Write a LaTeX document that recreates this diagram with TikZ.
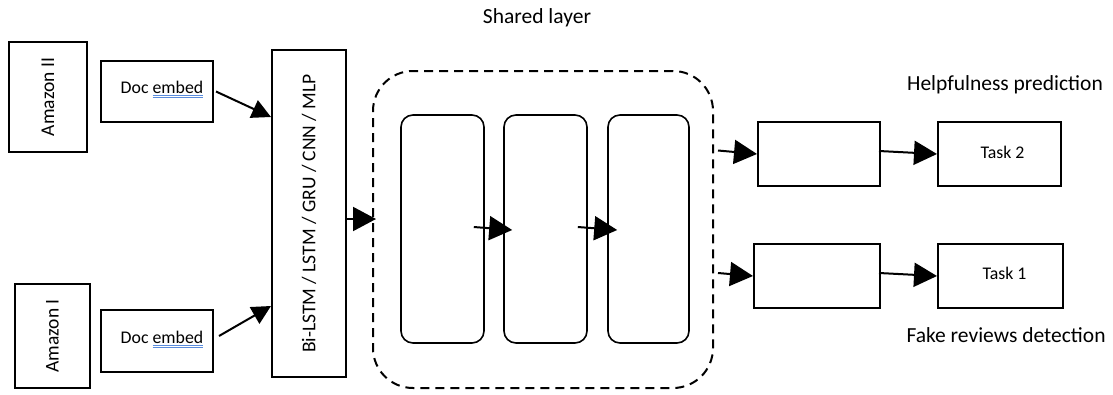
\documentclass[tikz,border=0pt]{standalone}
\usepackage{fontspec}
\setmainfont{Carlito}
\usetikzlibrary{arrows.meta,calc}
\definecolor{ulblue}{RGB}{90,140,220}
% spell-check style double underline under a word
\newcommand\spellul[1]{\setbox0=\hbox{#1}\rlap{\color{ulblue}\rule[-2.4pt]{\wd0}{0.7pt}\hskip-\wd0\rule[-4.2pt]{\wd0}{0.7pt}}\box0}
\begin{document}
\begin{tikzpicture}[x=1pt,y=-1pt,
  box/.style={draw,line width=2pt,inner sep=0pt},
  inner/.style={draw,line width=1.6pt,rounded corners=12pt,inner sep=0pt,minimum width=83pt,minimum height=228pt},
  big/.style={font=\fontsize{21.5}{25}\selectfont},
  small/.style={font=\fontsize{17.8}{21}\selectfont},
  vert/.style={font=\fontsize{19.5}{23}\selectfont,rotate=90},
  arr/.style={line width=2pt,-{Triangle[length=23pt,width=24pt]}},
  sarr/.style={line width=2pt,-{Triangle[length=19pt,width=19pt]}}]
\useasboundingbox (0,0) rectangle (1113,394);

% input sources and document embeddings
\node[box,minimum width=78pt,minimum height=110pt] (amz2) at (48,97) {};
\node[vert] at (amz2.center) {Amazon II};
\node[box,minimum width=112pt,minimum height=61pt] (emb2) at (157,91.5) {};
\node[small] at ($(emb2.center)+(5,-2)$) {Doc \spellul{embed}};
\node[box,minimum width=75pt,minimum height=104pt] (amz1) at (52.5,336) {};
\node[vert] at (amz1.center) {Amazon I};
\node[box,minimum width=112pt,minimum height=62pt] (emb1) at (157,341) {};
\node[small] at ($(emb1.center)+(5,-2)$) {Doc \spellul{embed}};

% sequence encoder
\node[box,minimum width=74pt,minimum height=327pt] (enc) at (309,213.5) {};
\node[vert] at (enc.center) {Bi-LSTM / LSTM / GRU / CNN / MLP};

% shared layers
\node[draw,line width=2pt,dash pattern=on 9pt off 6pt,rounded corners=40pt,minimum width=340pt,minimum height=317pt] (shared) at (543,229.5) {};
\node[big] (sl) at (537,18) {Shared layer};
\node[inner] (l1) at (442.5,229) {};
\node[inner] (l2) at (545.5,229) {};
\node[inner,minimum width=81pt] (l3) at (648.5,229) {};

% task-specific layers and outputs
\node[box,minimum width=122pt,minimum height=64pt] (h2) at (819,154) {};
\node[box,minimum width=123pt,minimum height=64pt] (t2) at (999.5,154) {};
\node[small] at ($(t2.center)+(3,-2)$) {Task 2};
\node[box,minimum width=126pt,minimum height=64pt] (h1) at (817,276) {};
\node[box,minimum width=125pt,minimum height=64pt] (t1) at (1000.5,276) {};
\node[small] at ($(t1.center)+(4,-3)$) {Task 1};
\node[big] (hp) at (1005,85) {Helpfulness prediction};
\node[big] (fr) at (1006,335) {Fake reviews detection};

% connectors
\draw[sarr] ($(emb2.east)+(2,0)$) -- ($(enc.north west)+(0,68)$);
\draw[sarr] ($(emb1.east)+(5,-5)$) -- ($(enc.north west)+(0,257)$);
\draw[arr] ($(enc.east)+(0,5.5)$) -- ($(shared.west)+(4,-10.5)$);
\draw[arr] ($(l1.east)+(-11,-2)$) -- ($(l2.west)+(9,1)$);
\draw[arr] ($(l2.east)+(-10,-2)$) -- ($(l3.west)+(10,1)$);
\draw[arr] ($(shared.east)+(4,-79)$) -- (h2.west);
\draw[arr] ($(h2.east)+(-2,-3)$) -- (t2.west);
\draw[arr] ($(shared.east)+(4,43.5)$) -- (h1.west);
\draw[arr] ($(h1.east)+(-2,-3)$) -- (t1.west);
\end{tikzpicture}
\end{document}
